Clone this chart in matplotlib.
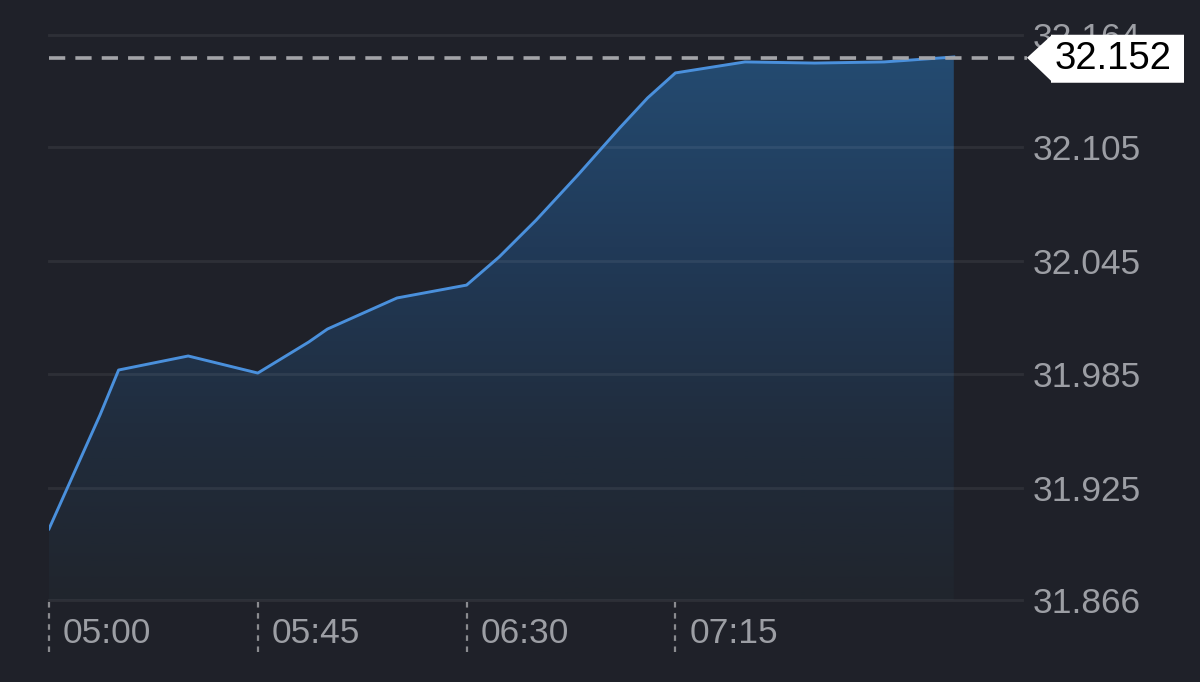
import numpy as np
import matplotlib
matplotlib.use("Agg")
import matplotlib.pyplot as plt
from matplotlib.patches import Polygon
from matplotlib.colors import LinearSegmentedColormap
import matplotlib.transforms as mtransforms

# ---- data (minutes after 05:00, price) ----
minutes = [0, 11, 15, 30, 45, 56, 60, 75, 90, 97, 105, 114, 123, 129, 135, 150, 165, 180, 195]
prices = [31.9035, 31.9636, 31.9873, 31.9947, 31.9857, 32.0021, 32.0089, 32.0253, 32.0321,
          32.0469, 32.0664, 32.0902, 32.1150, 32.1308, 32.1440, 32.1498, 32.1492, 32.1498, 32.1524]
last_price = 32.152
y_ticks = [31.866, 31.925, 31.985, 32.045, 32.105, 32.164]
y_tick_labels = ["31.866", "31.925", "31.985", "32.045", "32.105", "32.164"]
x_ticks = [0, 45, 90, 135]
x_tick_labels = ["05:00", "05:45", "06:30", "07:15"]

BG = "#1f2129"
LINE = "#4a90dc"
TXT = "#9c9ea4"

W, H = 1200, 682
fig = plt.figure(figsize=(W / 100, H / 100), dpi=100, facecolor=BG)
left_px, right_px, top_px, bot_px = 49, 1022, 35, 600
ax = fig.add_axes([left_px / W, 1 - bot_px / H, (right_px - left_px) / W, (bot_px - top_px) / H])
ax.set_facecolor(BG)
for s in ax.spines.values():
    s.set_visible(False)

x = np.array(minutes, dtype=float)
y = np.array(prices)
xmax = (right_px - left_px) / 4.64
ax.set_xlim(0, xmax)
ax.set_ylim(y_ticks[0], y_ticks[-1])

# grid lines (drawn over the fill, faint)
for yt in y_ticks:
    ax.axhline(yt, color="white", alpha=0.065, lw=2, zorder=2, clip_on=False)

# gradient fill
poly_xy = np.column_stack([np.r_[x[0], x, x[-1]], np.r_[y_ticks[0], y, y_ticks[0]]])
poly = Polygon(poly_xy, closed=True, facecolor="none", edgecolor="none")
ax.add_patch(poly)
cmap = LinearSegmentedColormap.from_list(
    "g", [(0.0, "#20252d"), (0.3, "#202c3c"), (0.65, "#213a58"), (1.0, "#244b71")])
grad = np.linspace(0, 1, 256).reshape(-1, 1)
im = ax.imshow(grad, aspect="auto", cmap=cmap, origin="lower",
               extent=[x[0], x[-1], y_ticks[0], max(prices)], zorder=1)
im.set_clip_path(poly)

# line
ax.plot(x, y, color=LINE, lw=2.1, zorder=3, solid_joinstyle="round")

# last price dashed line
trans = mtransforms.blended_transform_factory(ax.transAxes, ax.transData)
ax.plot([0, (1027 - left_px) / (right_px - left_px)], [last_price, last_price], transform=trans,
        color="#a3a4a8", lw=2.6, ls=(0, (4.5, 2.8)), zorder=4, clip_on=False)

# price label box with pointer (figure pixel coordinates)
fy = lambda py: 1 - py / H
fx = lambda px: px / W
yl = ax.transData.transform((0, last_price))[1]
cy = H - yl
box = Polygon([[fx(1027), fy(cy)], [fx(1051), fy(cy - 22)], [fx(1051), fy(cy - 23)],
               [fx(1184), fy(cy - 23)], [fx(1184), fy(cy + 25)], [fx(1051), fy(cy + 25)],
               [fx(1051), fy(cy + 23)]], closed=True, transform=fig.transFigure,
              facecolor="white", edgecolor="none", zorder=10)
fig.patches.append(box)
fig.text(fx(1113), fy(cy + 1), f"{last_price:.3f}", ha="center", va="center",
         fontsize=27.5, color="black", family="Liberation Sans", zorder=11)

# y tick labels on the right
ax.yaxis.tick_right()
ax.set_yticks(y_ticks)
ax.set_yticklabels(y_tick_labels)
ax.tick_params(axis="y", length=0, pad=8, labelsize=25.5, labelcolor=TXT)
for lab in ax.get_yticklabels():
    lab.set_family("Liberation Sans")

# x ticks: dotted lines + labels
ax.set_xticks([])
xtrans = mtransforms.blended_transform_factory(ax.transData, ax.transAxes)
for xt, lbl in zip(x_ticks, x_tick_labels):
    ax.plot([xt, xt], [-0.003, -0.092], transform=xtrans, color="#8a8b8f", lw=1.6,
            ls=(0, (2.5, 2.5)), clip_on=False, zorder=2)
    ax.text(xt + 14 / 4.64, -0.059, lbl, transform=xtrans, ha="left", va="center",
            fontsize=25.5, color=TXT, family="Liberation Sans")

fig.savefig("out.png", dpi=100, facecolor=BG)
